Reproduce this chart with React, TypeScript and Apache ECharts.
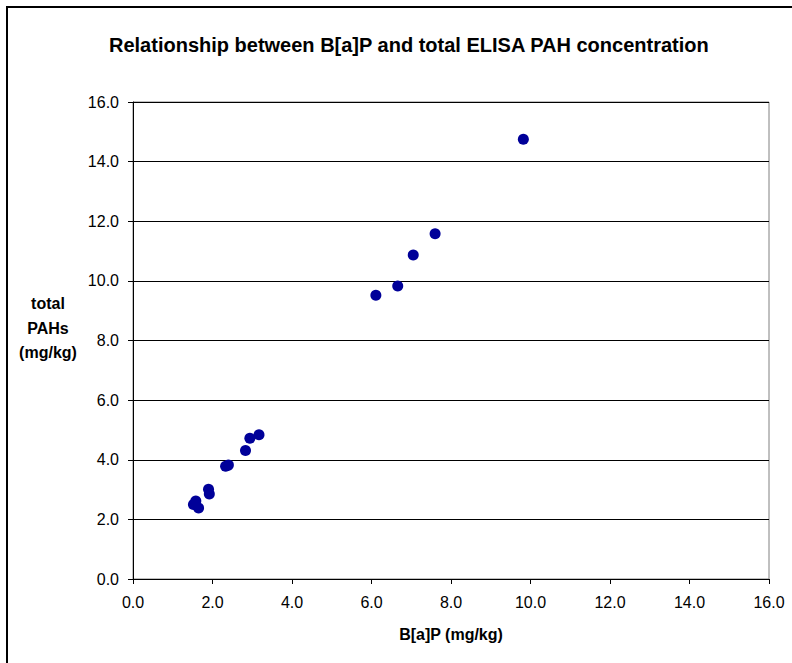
import React, { useEffect, useRef } from "react";
import * as echarts from "echarts";

const titleText = "Relationship between B[a]P and total ELISA PAH concentration";
const xAxisName = "B[a]P (mg/kg)";
const yAxisName = "total\nPAHs\n(mg/kg)\n ";
const bapValues = [1.52, 1.58, 1.65, 1.9, 1.92, 2.33, 2.4, 2.83, 2.94, 3.17, 6.11, 6.66, 7.05, 7.6, 9.82];
const pahValues = [2.5, 2.62, 2.38, 3.01, 2.85, 3.78, 3.82, 4.31, 4.72, 4.84, 9.52, 9.83, 10.87, 11.58, 14.75];

export default function App() {
  const ref = useRef<HTMLDivElement>(null);
  useEffect(() => {
    if (!ref.current) return;
    const chart = echarts.init(ref.current, undefined, { renderer: "svg" });
    const font = "Arial, 'Liberation Sans', sans-serif";
    chart.setOption({
      animation: false,
      backgroundColor: "#ffffff",
      textStyle: { fontFamily: font },
      title: {
        text: titleText,
        left: 104,
        top: 30,
        textStyle: { fontSize: 20, fontWeight: "bold", color: "#000", fontFamily: font },
      },
      graphic: [
        {
          type: "rect",
          shape: { x: 7, y: 7, width: 900, height: 900 },
          style: { fill: "none", stroke: "#000", lineWidth: 2 },
          silent: true,
        },
      ],
      grid: {
        left: 133,
        right: 23,
        top: 102,
        bottom: 84,
        show: true,
        borderColor: "#808080",
        borderWidth: 1,
        backgroundColor: "transparent",
      },
      xAxis: {
        type: "value",
        min: 0,
        max: 16,
        interval: 2,
        name: xAxisName,
        nameLocation: "middle",
        nameGap: 47,
        nameTextStyle: { fontSize: 16, fontWeight: "bold", color: "#000", fontFamily: font },
        axisLine: { show: true, lineStyle: { color: "#000", width: 1 } },
        axisTick: { show: true, length: 5, lineStyle: { color: "#000" } },
        axisLabel: {
          fontSize: 16,
          color: "#000",
          margin: 15,
          fontFamily: font,
          formatter: (v: number) => v.toFixed(1),
        },
        splitLine: { show: false },
      },
      yAxis: {
        type: "value",
        min: 0,
        max: 16,
        interval: 2,
        name: yAxisName,
        nameLocation: "middle",
        nameRotate: 0,
        nameGap: 85,
        nameTextStyle: {
          fontSize: 16,
          fontWeight: "bold",
          color: "#000",
          align: "center",
          verticalAlign: "middle",
          lineHeight: 24.5,
          fontFamily: font,
        },
        axisLine: { show: true, lineStyle: { color: "#000", width: 1 } },
        axisTick: { show: true, length: 5, lineStyle: { color: "#000" } },
        axisLabel: {
          fontSize: 16,
          color: "#000",
          margin: 14,
          fontFamily: font,
          formatter: (v: number) => v.toFixed(1),
        },
        splitLine: { show: true, lineStyle: { color: "#000", width: 1 } },
      },
      series: [
        {
          type: "scatter",
          data: bapValues.map((x, i) => [x, pahValues[i]]),
          symbol: "circle",
          symbolSize: 11,
          itemStyle: { color: "#000099", opacity: 1 },
        },
      ],
    });
    return () => chart.dispose();
  }, []);
  return (
    <div
      ref={ref}
      style={{ position: "fixed", left: 0, top: 0, width: 792, height: 663 }}
    />
  );
}
